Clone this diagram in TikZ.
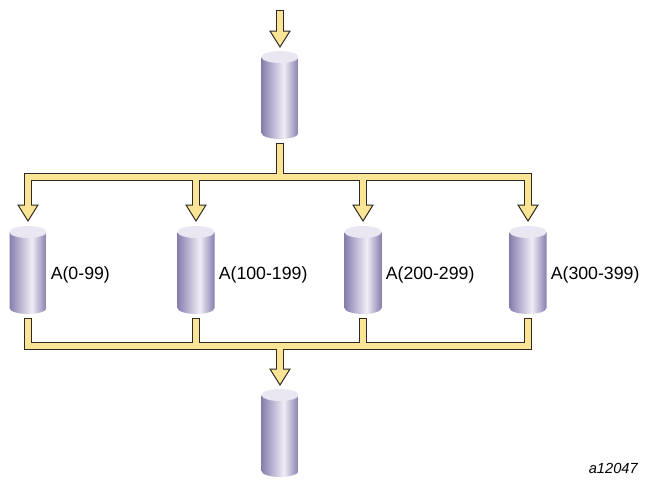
\documentclass[tikz,border=0pt]{standalone}
\usepackage{fontspec}
\setmainfont{Liberation Sans}
\usetikzlibrary{calc,positioning}

\definecolor{pipefill}{RGB}{250,229,150}
\definecolor{pipeline}{RGB}{45,40,35}
\definecolor{drumdark}{RGB}{136,126,174}
\definecolor{drumlight}{RGB}{241,237,246}
\definecolor{drumtop}{RGB}{235,231,242}
\pgfdeclarehorizontalshading{drumshade}{100bp}{color(0bp)=(drumdark); color(25bp)=(drumdark); color(55bp)=(drumlight); color(75bp)=(drumdark); color(100bp)=(drumdark)}

\tikzset{
  drumbox/.style={minimum width=27.75pt, minimum height=66pt, inner sep=0pt, outer sep=0pt},
  pics/drum/.style={code={
    \shade[shading=drumshade] (-18.5,38) -- (-18.5,-38) arc[start angle=180, end angle=360, x radius=18.5, y radius=6] -- (18.5,38) -- cycle;
    \fill[drumtop] (0,38) ellipse[x radius=18.5, y radius=6];
  }},
  pipe edge/.style={draw=pipeline, line width=5.6pt, line join=miter},
  pipe core/.style={draw=pipefill, line width=4.1pt, line join=miter},
  pipe head/.style={fill=pipefill, draw=pipeline, line width=0.75pt, line join=miter},
  rangelabel/.style={font=\fontsize{13.3}{15}\selectfont, inner sep=0pt, anchor=west},
}

\begin{document}
\begin{tikzpicture}[x=0.75pt,y=0.75pt,yscale=-1,xscale=1]
  \useasboundingbox (0,0) rectangle (647,479);

  % drums
  \node[drumbox] (src) at (280,95) {};
  \node[drumbox] (p0) at (28,270) {};
  \node[drumbox] (p1) at (196,270) {};
  \node[drumbox] (p2) at (363,270) {};
  \node[drumbox] (p3) at (528,270) {};
  \node[drumbox] (dst) at (280,433) {};
  \foreach \d in {src,p0,p1,p2,p3,dst} \pic at (\d) {drum};

  % pipe points
  \coordinate (feed) at (280,10);
  \coordinate (fork) at ($(src.south)+(0,38)$);
  \coordinate (join) at ($(dst.north)+(0,-43)$);

  % pipe outlines
  \draw[pipe edge] (feed) -- ($(src.north)+(0,-20)$);
  \draw[pipe edge] ($(src.south)+(0,4)$) -- (fork);
  \draw[pipe edge] ($(p0.north)+(0,-21)$) |- (fork -| p3) -- ($(p3.north)+(0,-21)$);
  \foreach \d in {p1,p2} \draw[pipe edge] (fork -| \d) -- ($(\d.north)+(0,-21)$);
  \draw[pipe edge] ($(p0.south)+(0,4)$) |- (join -| p3) -- ($(p3.south)+(0,4)$);
  \foreach \d in {p1,p2} \draw[pipe edge] ($(\d.south)+(0,4)$) -- (join -| \d);
  \draw[pipe edge] (join) -- ($(dst.north)+(0,-20)$);

  % arrow heads
  \draw[pipe head] ($(src.north)+(0,-4)$) -- ++(-10,-16) -- ++(20,0) -- cycle;
  \foreach \d in {p0,p1,p2,p3}
    \draw[pipe head] ($(\d.north)+(0,-5)$) -- ++(-10,-16) -- ++(20,0) -- cycle;
  \draw[pipe head] ($(dst.north)+(0,-4)$) -- ++(-10,-16) -- ++(20,0) -- cycle;

  % pipe fill
  \draw[pipe core] ($(feed)+(0,1)$) -- ($(src.north)+(0,-18.5)$);
  \draw[pipe core] ($(src.south)+(0,5)$) -- (fork);
  \draw[pipe core] ($(p0.north)+(0,-19.5)$) |- (fork -| p3) -- ($(p3.north)+(0,-19.5)$);
  \foreach \d in {p1,p2} \draw[pipe core] (fork -| \d) -- ($(\d.north)+(0,-19.5)$);
  \draw[pipe core] ($(p0.south)+(0,5)$) |- (join -| p3) -- ($(p3.south)+(0,5)$);
  \foreach \d in {p1,p2} \draw[pipe core] ($(\d.south)+(0,5)$) -- (join -| \d);
  \draw[pipe core] (join) -- ($(dst.north)+(0,-18.5)$);

  % labels
  \node[rangelabel] (l0) at ($(p0.east)+(4,5)$) {A(0-99)};
  \node[rangelabel] (l1) at ($(p1.east)+(4,5)$) {A(100-199)};
  \node[rangelabel] (l2) at ($(p2.east)+(4,5)$) {A(200-299)};
  \node[rangelabel] (l3) at ($(p3.east)+(4,5)$) {A(300-399)};
  \node[anchor=east, inner sep=0pt, font=\fontsize{11}{13}\selectfont\itshape] (fig) at (638,468) {a12047};
\end{tikzpicture}
\end{document}
